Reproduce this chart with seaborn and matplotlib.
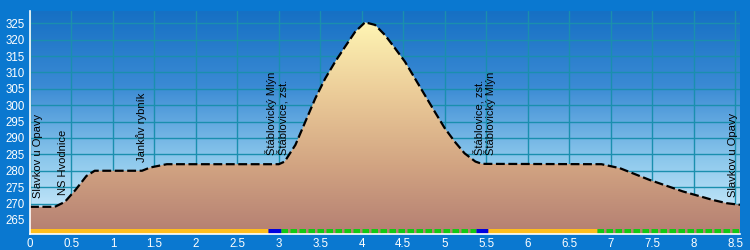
import numpy as np
import pandas as pd
import matplotlib
matplotlib.use("Agg")
import matplotlib.pyplot as plt
from matplotlib.colors import LinearSegmentedColormap
import seaborn as sns

# ---- data ----
dist_km = [0, 0.3, 0.42, 0.55, 0.68, 0.78, 1.35, 1.45, 1.65, 3.0, 3.07, 3.20, 3.32,
           3.44, 3.56, 3.68, 3.80, 3.92, 4.04, 4.16, 4.28, 4.40, 4.52, 4.64, 4.76,
           4.88, 5.00, 5.12, 5.24, 5.37, 5.45,
           6.89, 7.11, 7.47, 7.87, 8.23, 8.4, 8.56]
elev_m = [269, 269, 270.5, 274.2, 278.4, 280, 280, 281, 282, 282, 282.8, 287.9, 295.0,
          302.1, 308.2, 313.3, 317.9, 322.4, 325.3, 324.5, 321.4, 317.4, 313.3, 308.2, 303.1,
          298.0, 293.0, 288.9, 285.3, 282.8, 282.1,
          282, 280.8, 277.2, 273.7, 271.1, 270.1, 269.6]

poi_names = ["Slavkov u Opavy", "NS Hvodnice", "Jankův rybník", "Štáblovický Mlýn",
             "Štáblovice, zst.", "Štáblovice, zst.", "Štáblovický Mlýn", "Slavkov u Opavy"]
poi_x = [0.1, 0.4, 1.35, 2.9, 3.05, 5.41, 5.55, 8.47]
poi_base = [271.8, 272.7, 282.8, 284.9, 284.9, 284.9, 284.9, 272.0]

seg_start = [0, 2.87, 3.03, 5.38, 5.52, 6.83]
seg_end = [2.87, 3.03, 5.38, 5.52, 6.83, 8.55]
seg_type = ["road", "path", "trail", "path", "road", "trail"]

xticks = [0, 0.5, 1, 1.5, 2, 2.5, 3, 3.5, 4, 4.5, 5, 5.5, 6, 6.5, 7, 7.5, 8, 8.5]
xtick_labels = ["0", "0.5", "1", "1.5", "2", "2.5", "3", "3.5", "4", "4.5", "5", "5.5",
                "6", "6.5", "7", "7.5", "8", "8.5"]
yticks = list(range(265, 330, 5))

# ---- style ----
sns.set_style("white")
plt.rcParams['font.family'] = ['Liberation Sans', 'DejaVu Sans']

XMIN, XMAX = 0, 8.56
YMIN, YMAX = 260.7, 328.75

fig = plt.figure(figsize=(7.5, 2.5), dpi=100)
fig.patch.set_facecolor("#0a78d0")
ax = fig.add_axes([30 / 750, 1 - 234 / 250, 710 / 750, 223 / 250])
ax.set_xlim(XMIN, XMAX)
ax.set_ylim(YMIN, YMAX)

# sky gradient
sky = LinearSegmentedColormap.from_list("sky", ["#dcf4ff", "#8cc8ec", "#3a8ad4", "#1670c4"])
grad = np.linspace(0, 1, 256).reshape(-1, 1)
ax.imshow(grad, cmap=sky, aspect="auto", origin="lower",
          extent=[XMIN, XMAX, YMIN, YMAX], zorder=0)

# grid
for xv in xticks:
    ax.axvline(xv, color="#1a8fae", lw=1.0, zorder=1)
for yv in yticks:
    ax.axhline(yv, color="#1a8fae", lw=1.0, zorder=1)

# terrain fill with gradient
df = pd.DataFrame({"km": dist_km, "elev": elev_m})
poly = ax.fill_between(df["km"], df["elev"], YMIN, color="none", zorder=2)
terr = LinearSegmentedColormap.from_list(
    "terr", [(0.0, "#b47f72"), (0.32, "#d2a482"),
             (0.65, "#ebcb98"), (1.0, "#fff6b4")])
tgrad = np.linspace(0, 1, 256).reshape(-1, 1)
img = ax.imshow(tgrad, cmap=terr, aspect="auto", origin="lower",
                extent=[XMIN, XMAX, YMIN, 326], zorder=2)
path = poly.get_paths()[0]
img.set_clip_path(path, transform=ax.transData)

# profile line
sns.lineplot(data=df, x="km", y="elev", ax=ax, color="black", lw=1.6,
             dashes=False, zorder=4, estimator=None, sort=False)
ax.lines[-1].set_linestyle((0, (4, 1.6)))

# POI labels
for name, xv, yb in zip(poi_names, poi_x, poi_base):
    ax.text(xv, yb, name, rotation=90, ha="center", va="bottom", fontsize=8,
            color="black", zorder=5)

# surface band
band_y = 261.6
colors = {"road": "#ffbe1e", "path": "#0000e0", "trail": "#14c814"}
for s, e, t in zip(seg_start, seg_end, seg_type):
    if t == "trail":
        ax.plot([s, e], [band_y, band_y], color=colors[t], lw=3.6,
                linestyle=(0, (1.3, 0.5)), solid_capstyle="butt", zorder=6)
    else:
        ax.plot([s, e], [band_y, band_y], color=colors[t], lw=3.6,
                solid_capstyle="butt", zorder=6)

# axes
ax.set_xticks(xticks)
ax.set_xticklabels(xtick_labels)
ax.set_yticks(yticks)
ax.set_yticklabels([str(v) for v in yticks])
ax.set_xlabel("")
ax.set_ylabel("")
for side in ["top", "right"]:
    ax.spines[side].set_visible(False)
for side in ["left", "bottom"]:
    ax.spines[side].set_visible(True)
    ax.spines[side].set_color("white")
    ax.spines[side].set_linewidth(1.2)
    ax.spines[side].set_zorder(7)
ax.tick_params(axis="both", colors="white", labelcolor="white", labelsize=8.3,
               length=2.5, width=1, pad=1, direction="out")
ax.tick_params(axis="x", pad=0.2)

fig.savefig("out.png", dpi=100, facecolor=fig.get_facecolor())
